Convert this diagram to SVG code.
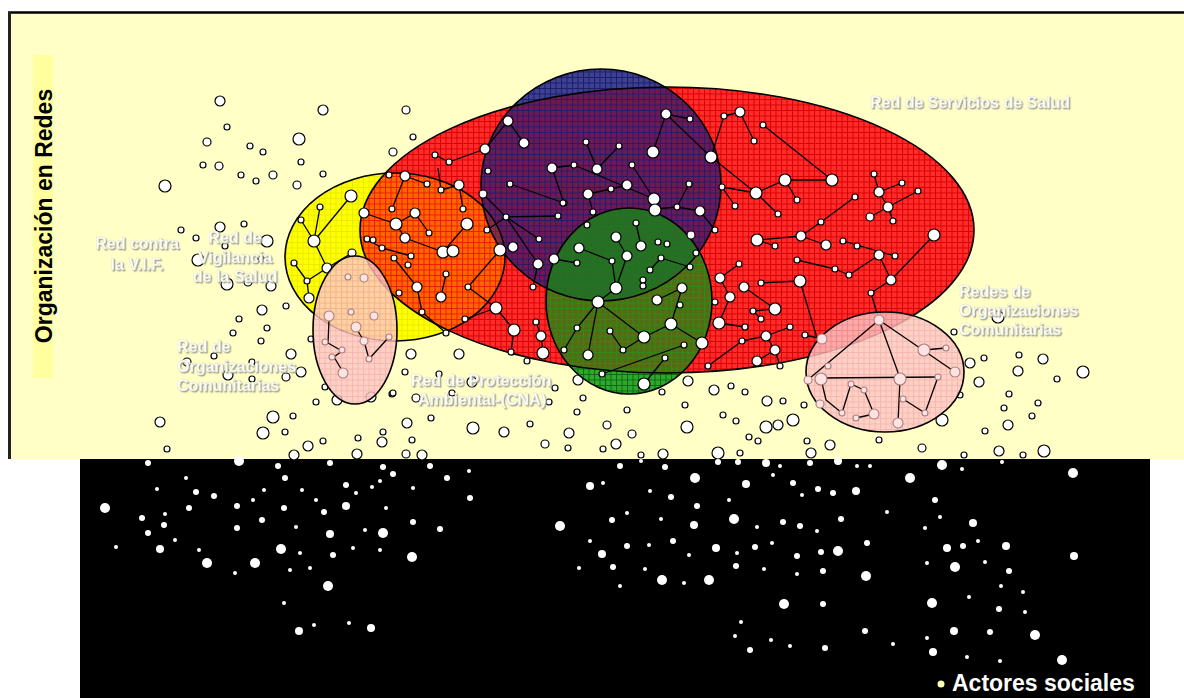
<svg xmlns="http://www.w3.org/2000/svg" width="1184" height="698" viewBox="0 0 1184 698">
<style>
.n{fill:#fff;stroke:#000;stroke-width:1.2}
.w{fill:#fff}
.pk{fill:#FFE2E2;stroke:#A88080;stroke-width:1.1}
.ol{fill:none;stroke:#000;stroke-width:1.6}
#connectors line,#pinkNet line{stroke:#000;stroke-width:1.3}
.lbl{font-family:"Liberation Sans",Arial,sans-serif;font-weight:bold;font-size:16px;fill:#FFFFF8;stroke:#DCDCCC;stroke-width:0.4;filter:url(#sh)}
</style>
<defs>
<filter id="sh" x="-5%" y="-20%" width="110%" height="140%"><feDropShadow dx="1.3" dy="1.3" stdDeviation="0.5" flood-color="#A4A494"/></filter>
<pattern id="pR" width="5.5" height="5.5" patternUnits="userSpaceOnUse"><rect width="5.5" height="5.5" fill="#FF2C2C"/><path d="M0 .5H5.5M.5 0V5.5" stroke="#D80000" stroke-width="1"/></pattern>
<pattern id="pO" width="5.5" height="5.5" patternUnits="userSpaceOnUse"><rect width="5.5" height="5.5" fill="#FF6600"/><path d="M0 .5H5.5M.5 0V5.5" stroke="#EC1C00" stroke-width="1"/></pattern>
<pattern id="pY" width="5.5" height="5.5" patternUnits="userSpaceOnUse"><rect width="5.5" height="5.5" fill="#FFFF00"/><path d="M0 .5H5.5M.5 0V5.5" stroke="#EAEA00" stroke-width="1"/></pattern>
<pattern id="pN" width="5.5" height="5.5" patternUnits="userSpaceOnUse"><rect width="5.5" height="5.5" fill="#3D4190"/><path d="M0 .5H5.5M.5 0V5.5" stroke="#1B1D6C" stroke-width="1"/></pattern>
<pattern id="pP" width="5.5" height="5.5" patternUnits="userSpaceOnUse"><rect width="5.5" height="5.5" fill="#6E1A52"/><path d="M0 .5H5.5M.5 0V5.5" stroke="#28196C" stroke-width="1"/></pattern>
<pattern id="pG" width="5.5" height="5.5" patternUnits="userSpaceOnUse"><rect width="5.5" height="5.5" fill="#2FA82F"/><path d="M0 .5H5.5M.5 0V5.5" stroke="#0C6A0C" stroke-width="1"/></pattern>
<pattern id="pGo" width="5.5" height="5.5" patternUnits="userSpaceOnUse"><rect width="5.5" height="5.5" fill="#566A14"/><path d="M0 .5H5.5M.5 0V5.5" stroke="#2E8A18" stroke-width="1"/></pattern>
<pattern id="pGd" width="5.5" height="5.5" patternUnits="userSpaceOnUse"><rect width="5.5" height="5.5" fill="#2B6A28"/><path d="M0 .5H5.5M.5 0V5.5" stroke="#1A7A1A" stroke-width="1"/></pattern>
<pattern id="pK" width="5.5" height="5.5" patternUnits="userSpaceOnUse"><rect width="5.5" height="5.5" fill="#FFC6C6"/><path d="M0 .5H5.5M.5 0V5.5" stroke="#F2A8A8" stroke-width="1"/></pattern>
<clipPath id="cRed"><ellipse cx="667" cy="230" rx="307" ry="143"/></clipPath>
<clipPath id="cYel"><ellipse cx="395" cy="257" rx="110" ry="84"/></clipPath>
<clipPath id="cNav"><ellipse cx="601" cy="185" rx="120" ry="116"/></clipPath>
</defs>

<g id="background">
<rect width="1184" height="698" fill="#fff"/>
<rect x="10" y="13" width="1174" height="446" fill="#FFFFC6"/>
<path d="M8 12.5H1184" stroke="#000" stroke-width="2.5"/>
<path d="M9.5 12V459" stroke="#222" stroke-width="3"/>
<rect x="80" y="459" width="1070" height="239" fill="#000"/>
</g>

<g id="title">
<rect x="33" y="55" width="20" height="323" fill="#FFFF9E"/>
<text transform="translate(52,216) rotate(-90)" text-anchor="middle" font-family="Liberation Sans,Arial,sans-serif" font-weight="bold" font-size="23" fill="#000">Organización en Redes</text>
</g>

<g id="scatter">
<circle class="n" cx="220" cy="101" r="5"/><circle class="n" cx="227" cy="127" r="3"/><circle class="n" cx="207" cy="142" r="4"/><circle class="n" cx="250" cy="146" r="3"/><circle class="n" cx="263" cy="152" r="3"/><circle class="n" cx="203" cy="165" r="3"/><circle class="n" cx="219" cy="166" r="4"/><circle class="n" cx="241" cy="175" r="3"/><circle class="n" cx="256" cy="181" r="3"/><circle class="n" cx="273" cy="175" r="4"/><circle class="n" cx="165" cy="186" r="6"/><circle class="n" cx="299" cy="139" r="6"/><circle class="n" cx="297" cy="185" r="4"/><circle class="n" cx="301" cy="162" r="3"/><circle class="n" cx="323" cy="174" r="3"/><circle class="n" cx="323" cy="110" r="5"/><circle class="n" cx="406" cy="110" r="4"/><circle class="n" cx="413" cy="137" r="3"/><circle class="n" cx="393" cy="152" r="4"/>
<circle class="n" cx="181" cy="230" r="3"/><circle class="n" cx="196" cy="238" r="3"/><circle class="n" cx="220" cy="227" r="5"/><circle class="n" cx="244" cy="224" r="3"/><circle class="n" cx="267" cy="241" r="6"/><circle class="n" cx="225" cy="246" r="3"/><circle class="n" cx="198" cy="260" r="6"/><circle class="n" cx="261" cy="259" r="3"/><circle class="n" cx="227" cy="284" r="6"/><circle class="n" cx="248" cy="282" r="4"/><circle class="n" cx="271" cy="286" r="5"/><circle class="n" cx="262" cy="310" r="5"/><circle class="n" cx="286" cy="306" r="3"/><circle class="n" cx="239" cy="319" r="3"/><circle class="n" cx="267" cy="328" r="3"/><circle class="n" cx="233" cy="333" r="3"/><circle class="n" cx="261" cy="341" r="3"/><circle class="n" cx="214" cy="356" r="3"/><circle class="n" cx="291" cy="354" r="5"/><circle class="n" cx="187" cy="362" r="4"/><circle class="n" cx="252" cy="362" r="3"/><circle class="n" cx="228" cy="375" r="5"/><circle class="n" cx="252" cy="379" r="3"/><circle class="n" cx="286" cy="377" r="4"/><circle class="n" cx="301" cy="372" r="5"/><circle class="n" cx="311" cy="339" r="3"/><circle class="n" cx="325" cy="387" r="3"/><circle class="n" cx="316" cy="402" r="3"/><circle class="n" cx="337" cy="400" r="5"/><circle class="n" cx="371" cy="397" r="5"/><circle class="n" cx="392" cy="394" r="3"/>
<circle class="n" cx="160" cy="422" r="5"/><circle class="n" cx="167" cy="449" r="3"/><circle class="n" cx="273" cy="417" r="6"/><circle class="n" cx="293" cy="416" r="3"/><circle class="n" cx="263" cy="433" r="6"/><circle class="n" cx="285" cy="432" r="3"/><circle class="n" cx="294" cy="455" r="5"/><circle class="n" cx="308" cy="446" r="5"/><circle class="n" cx="323" cy="441" r="3"/><circle class="n" cx="358" cy="438" r="3"/><circle class="n" cx="357" cy="454" r="5"/><circle class="n" cx="382" cy="442" r="5"/><circle class="n" cx="383" cy="432" r="3"/><circle class="n" cx="412" cy="440" r="3"/><circle class="n" cx="406" cy="454" r="4"/><circle class="n" cx="422" cy="455" r="5"/><circle class="n" cx="393" cy="393" r="3"/><circle class="n" cx="416" cy="398" r="4"/><circle class="n" cx="405" cy="372" r="3"/><circle class="n" cx="439" cy="374" r="3"/><circle class="n" cx="472" cy="382" r="5"/><circle class="n" cx="452" cy="393" r="3"/><circle class="n" cx="407" cy="423" r="5"/><circle class="n" cx="431" cy="418" r="3"/><circle class="n" cx="473" cy="428" r="6"/><circle class="n" cx="504" cy="432" r="5"/><circle class="n" cx="530" cy="424" r="3"/><circle class="n" cx="545" cy="444" r="4"/><circle class="n" cx="568" cy="448" r="3"/><circle class="n" cx="569" cy="433" r="5"/><circle class="n" cx="411" cy="354" r="5"/><circle class="n" cx="459" cy="354" r="5"/><circle class="n" cx="512" cy="352" r="3"/><circle class="n" cx="527" cy="361" r="3"/><circle class="n" cx="555" cy="388" r="3"/><circle class="n" cx="549" cy="402" r="3"/>
<circle class="n" cx="578" cy="380" r="5"/><circle class="n" cx="583" cy="398" r="3"/><circle class="n" cx="577" cy="412" r="3"/><circle class="n" cx="627" cy="410" r="3"/><circle class="n" cx="607" cy="425" r="4"/><circle class="n" cx="632" cy="434" r="4"/><circle class="n" cx="616" cy="444" r="5"/><circle class="n" cx="603" cy="449" r="3"/><circle class="n" cx="641" cy="455" r="3"/><circle class="n" cx="663" cy="454" r="5"/><circle class="n" cx="662" cy="392" r="3"/><circle class="n" cx="688" cy="381" r="5"/><circle class="n" cx="685" cy="405" r="3"/><circle class="n" cx="687" cy="427" r="6"/><circle class="n" cx="714" cy="390" r="5"/><circle class="n" cx="731" cy="386" r="3"/><circle class="n" cx="745" cy="392" r="3"/><circle class="n" cx="767" cy="401" r="5"/><circle class="n" cx="783" cy="401" r="3"/><circle class="n" cx="804" cy="405" r="3"/><circle class="n" cx="723" cy="415" r="3"/><circle class="n" cx="736" cy="421" r="3"/><circle class="n" cx="749" cy="437" r="3"/><circle class="n" cx="758" cy="441" r="3"/><circle class="n" cx="718" cy="453" r="6"/><circle class="n" cx="740" cy="453" r="3"/><circle class="n" cx="766" cy="427" r="6"/><circle class="n" cx="778" cy="425" r="5"/><circle class="n" cx="793" cy="420" r="6"/><circle class="n" cx="807" cy="441" r="3"/><circle class="n" cx="830" cy="445" r="5"/><circle class="n" cx="811" cy="453" r="5"/>
<circle class="n" cx="942" cy="420" r="6"/><circle class="n" cx="879" cy="440" r="3"/><circle class="n" cx="922" cy="448" r="4"/><circle class="n" cx="964" cy="455" r="3"/><circle class="n" cx="960" cy="395" r="3"/><circle class="n" cx="979" cy="382" r="5"/><circle class="n" cx="970" cy="363" r="5"/><circle class="n" cx="984" cy="358" r="3"/><circle class="n" cx="954" cy="332" r="3"/><circle class="n" cx="998" cy="317" r="6"/><circle class="n" cx="1009" cy="394" r="3"/><circle class="n" cx="1004" cy="408" r="3"/><circle class="n" cx="985" cy="431" r="3"/><circle class="n" cx="1008" cy="425" r="5"/><circle class="n" cx="1038" cy="403" r="3"/><circle class="n" cx="1032" cy="416" r="3"/><circle class="n" cx="999" cy="451" r="5"/><circle class="n" cx="1023" cy="455" r="3"/><circle class="n" cx="1044" cy="451" r="6"/><circle class="n" cx="1018" cy="371" r="5"/><circle class="n" cx="1019" cy="355" r="3"/><circle class="n" cx="1043" cy="359" r="5"/><circle class="n" cx="1057" cy="379" r="3"/><circle class="n" cx="1083" cy="372" r="6"/>
</g>

<g id="networks">
<ellipse cx="667" cy="230" rx="307" ry="143" fill="url(#pR)"/>
<ellipse cx="395" cy="257" rx="110" ry="84" fill="url(#pY)"/>
<ellipse cx="395" cy="257" rx="110" ry="84" fill="url(#pO)" clip-path="url(#cRed)"/>
<ellipse cx="601" cy="185" rx="120" ry="116" fill="url(#pN)"/>
<ellipse cx="601" cy="185" rx="120" ry="116" fill="url(#pP)" clip-path="url(#cRed)"/>
<ellipse cx="601" cy="185" rx="120" ry="116" fill="#FF6600" fill-opacity="0.22" clip-path="url(#cYel)"/>
<ellipse cx="629" cy="301" rx="83" ry="93" fill="url(#pG)"/>
<ellipse cx="629" cy="301" rx="83" ry="93" fill="url(#pGo)" clip-path="url(#cRed)"/>
<ellipse cx="629" cy="301" rx="83" ry="93" fill="url(#pGd)" clip-path="url(#cNav)"/>
<ellipse class="ol" cx="667" cy="230" rx="307" ry="143"/>
<ellipse class="ol" cx="395" cy="257" rx="110" ry="84"/>
<ellipse class="ol" cx="601" cy="185" rx="120" ry="116"/>
<ellipse class="ol" cx="629" cy="301" rx="83" ry="93"/>
</g>

<g id="connectors">
<line x1="351" y1="196" x2="314" y2="241"/><line x1="320" y1="207" x2="314" y2="241"/><line x1="301" y1="220" x2="314" y2="241"/><line x1="314" y1="241" x2="327" y2="268"/><line x1="294" y1="263" x2="307" y2="281"/><line x1="307" y1="281" x2="327" y2="268"/><line x1="327" y1="268" x2="352" y2="253"/><line x1="307" y1="281" x2="309" y2="298"/>
<line x1="405" y1="176" x2="427" y2="184"/><line x1="405" y1="176" x2="392" y2="209"/><line x1="441" y1="190" x2="438" y2="168"/><line x1="441" y1="190" x2="459" y2="185"/><line x1="459" y1="185" x2="463" y2="209"/><line x1="364" y1="213" x2="396" y2="224"/><line x1="396" y1="224" x2="415" y2="213"/><line x1="415" y1="213" x2="429" y2="233"/><line x1="396" y1="224" x2="405" y2="238"/><line x1="405" y1="238" x2="443" y2="252"/><line x1="443" y1="252" x2="467" y2="224"/><line x1="367" y1="239" x2="382" y2="248"/><line x1="382" y1="248" x2="411" y2="256"/><line x1="394" y1="258" x2="417" y2="287"/><line x1="417" y1="287" x2="422" y2="312"/><line x1="422" y1="312" x2="446" y2="333"/><line x1="446" y1="274" x2="441" y2="297"/><line x1="500" y1="250" x2="468" y2="287"/><line x1="468" y1="287" x2="496" y2="308"/><line x1="496" y1="308" x2="465" y2="319"/><line x1="496" y1="308" x2="514" y2="330"/><line x1="514" y1="330" x2="511" y2="352"/><line x1="536" y1="322" x2="541" y2="336"/><line x1="541" y1="336" x2="543" y2="353"/><line x1="533" y1="287" x2="538" y2="264"/>
<line x1="435" y1="155" x2="449" y2="162"/><line x1="449" y1="162" x2="485" y2="149"/>
<line x1="508" y1="121" x2="524" y2="143"/><line x1="485" y1="149" x2="508" y2="121"/><line x1="552" y1="168" x2="574" y2="165"/><line x1="574" y1="165" x2="654" y2="199"/><line x1="586" y1="142" x2="597" y2="169"/><line x1="619" y1="146" x2="597" y2="169"/><line x1="632" y1="165" x2="654" y2="199"/><line x1="588" y1="194" x2="611" y2="189"/><line x1="611" y1="189" x2="627" y2="185"/><line x1="588" y1="194" x2="593" y2="212"/><line x1="552" y1="168" x2="564" y2="203"/><line x1="510" y1="184" x2="564" y2="203"/><line x1="655" y1="209" x2="677" y2="207"/><line x1="677" y1="207" x2="700" y2="211"/><line x1="677" y1="207" x2="689" y2="184"/><line x1="666" y1="114" x2="690" y2="119"/><line x1="666" y1="114" x2="653" y2="152"/><line x1="666" y1="114" x2="711" y2="157"/><line x1="483" y1="194" x2="506" y2="217"/><line x1="506" y1="217" x2="558" y2="216"/><line x1="487" y1="230" x2="506" y2="217"/><line x1="506" y1="217" x2="539" y2="239"/><line x1="506" y1="217" x2="538" y2="264"/>
<line x1="724" y1="116" x2="740" y2="112"/><line x1="740" y1="112" x2="754" y2="141"/><line x1="763" y1="125" x2="832" y2="180"/><line x1="724" y1="116" x2="711" y2="157"/><line x1="711" y1="157" x2="756" y2="193"/><line x1="722" y1="187" x2="756" y2="193"/><line x1="722" y1="187" x2="735" y2="206"/><line x1="756" y1="193" x2="785" y2="180"/><line x1="785" y1="180" x2="832" y2="180"/><line x1="785" y1="180" x2="797" y2="200"/><line x1="756" y1="193" x2="778" y2="214"/><line x1="700" y1="211" x2="715" y2="230"/>
<line x1="874" y1="174" x2="879" y2="192"/><line x1="879" y1="192" x2="902" y2="183"/><line x1="879" y1="192" x2="888" y2="207"/><line x1="888" y1="207" x2="918" y2="191"/><line x1="888" y1="207" x2="870" y2="217"/><line x1="888" y1="207" x2="893" y2="221"/><line x1="855" y1="197" x2="821" y2="222"/><line x1="821" y1="222" x2="801" y2="236"/><line x1="801" y1="236" x2="757" y2="240"/><line x1="757" y1="240" x2="775" y2="246"/><line x1="801" y1="236" x2="826" y2="245"/><line x1="934" y1="235" x2="891" y2="280"/><line x1="891" y1="280" x2="871" y2="293"/><line x1="871" y1="293" x2="879" y2="320"/><line x1="843" y1="241" x2="895" y2="256"/><line x1="797" y1="260" x2="835" y2="269"/><line x1="835" y1="269" x2="849" y2="275"/><line x1="849" y1="275" x2="879" y2="255"/><line x1="879" y1="255" x2="891" y2="280"/>
<line x1="739" y1="264" x2="720" y2="278"/><line x1="720" y1="278" x2="730" y2="297"/><line x1="730" y1="297" x2="719" y2="323"/><line x1="719" y1="323" x2="745" y2="327"/><line x1="744" y1="287" x2="775" y2="309"/><line x1="761" y1="283" x2="800" y2="281"/><line x1="800" y1="281" x2="817" y2="338"/><line x1="753" y1="311" x2="775" y2="309"/><line x1="753" y1="311" x2="761" y2="319"/><line x1="790" y1="327" x2="766" y2="336"/><line x1="766" y1="336" x2="742" y2="341"/><line x1="766" y1="336" x2="775" y2="350"/><line x1="775" y1="350" x2="757" y2="361"/><line x1="775" y1="350" x2="780" y2="366"/><line x1="742" y1="341" x2="708" y2="366"/><line x1="805" y1="335" x2="822" y2="339"/>
<line x1="579" y1="248" x2="612" y2="261"/><line x1="554" y1="259" x2="577" y2="263"/><line x1="612" y1="261" x2="616" y2="288"/><line x1="616" y1="237" x2="627" y2="256"/><line x1="627" y1="256" x2="616" y2="288"/><line x1="641" y1="246" x2="636" y2="223"/><line x1="661" y1="258" x2="690" y2="267"/><line x1="661" y1="258" x2="650" y2="270"/><line x1="616" y1="288" x2="598" y2="302"/><line x1="598" y1="302" x2="577" y2="328"/><line x1="577" y1="328" x2="564" y2="350"/><line x1="598" y1="302" x2="588" y2="355"/><line x1="598" y1="302" x2="644" y2="337"/><line x1="644" y1="337" x2="671" y2="324"/><line x1="671" y1="324" x2="682" y2="288"/><line x1="682" y1="288" x2="657" y2="300"/><line x1="671" y1="324" x2="702" y2="343"/><line x1="610" y1="331" x2="623" y2="350"/><line x1="623" y1="350" x2="644" y2="337"/><line x1="684" y1="345" x2="602" y2="374"/><line x1="665" y1="358" x2="644" y2="384"/>
</g>

<g id="nodes">
<circle class="n" cx="351" cy="196" r="6"/><circle class="n" cx="320" cy="207" r="3"/><circle class="n" cx="301" cy="220" r="3"/><circle class="n" cx="314" cy="241" r="6"/><circle class="n" cx="294" cy="263" r="3"/><circle class="n" cx="327" cy="268" r="5"/><circle class="n" cx="352" cy="253" r="4"/><circle class="n" cx="307" cy="281" r="3"/><circle class="n" cx="309" cy="298" r="5"/><circle class="n" cx="364" cy="213" r="5"/>
<circle class="n" cx="405" cy="176" r="5"/><circle class="n" cx="389" cy="175" r="3"/><circle class="n" cx="427" cy="184" r="3"/><circle class="n" cx="441" cy="190" r="3"/><circle class="n" cx="459" cy="185" r="5"/><circle class="n" cx="463" cy="209" r="3"/><circle class="n" cx="392" cy="209" r="3"/><circle class="n" cx="415" cy="213" r="5"/><circle class="n" cx="396" cy="224" r="6"/><circle class="n" cx="429" cy="233" r="3"/><circle class="n" cx="467" cy="224" r="6"/><circle class="n" cx="405" cy="238" r="5"/><circle class="n" cx="367" cy="239" r="3"/><circle class="n" cx="373" cy="240" r="3"/><circle class="n" cx="382" cy="248" r="3"/><circle class="n" cx="443" cy="252" r="6"/><circle class="n" cx="453" cy="251" r="6"/><circle class="n" cx="411" cy="256" r="3"/><circle class="n" cx="394" cy="258" r="3"/><circle class="n" cx="408" cy="265" r="3"/><circle class="n" cx="446" cy="274" r="3"/><circle class="n" cx="417" cy="287" r="5"/><circle class="n" cx="399" cy="293" r="3"/><circle class="n" cx="441" cy="297" r="5"/><circle class="n" cx="422" cy="312" r="3"/><circle class="n" cx="446" cy="333" r="3"/><circle class="n" cx="500" cy="250" r="6"/><circle class="n" cx="513" cy="247" r="5"/><circle class="n" cx="468" cy="287" r="3"/><circle class="n" cx="496" cy="308" r="6"/><circle class="n" cx="465" cy="319" r="3"/><circle class="n" cx="514" cy="330" r="6"/><circle class="n" cx="536" cy="322" r="3"/><circle class="n" cx="541" cy="336" r="5"/><circle class="n" cx="543" cy="353" r="6"/><circle class="n" cx="511" cy="352" r="3"/><circle class="n" cx="533" cy="287" r="3"/>
<circle class="n" cx="435" cy="155" r="3"/><circle class="n" cx="449" cy="162" r="3"/>
<circle class="n" cx="508" cy="121" r="5"/><circle class="n" cx="524" cy="143" r="5"/><circle class="n" cx="485" cy="149" r="5"/><circle class="n" cx="488" cy="171" r="3"/><circle class="n" cx="552" cy="168" r="5"/><circle class="n" cx="574" cy="165" r="3"/><circle class="n" cx="597" cy="169" r="5"/><circle class="n" cx="586" cy="142" r="3"/><circle class="n" cx="619" cy="146" r="3"/><circle class="n" cx="632" cy="165" r="3"/><circle class="n" cx="627" cy="185" r="5"/><circle class="n" cx="611" cy="189" r="3"/><circle class="n" cx="588" cy="194" r="5"/><circle class="n" cx="593" cy="212" r="3"/><circle class="n" cx="510" cy="184" r="3"/><circle class="n" cx="564" cy="203" r="3"/><circle class="n" cx="654" cy="199" r="6"/><circle class="n" cx="655" cy="210" r="6"/><circle class="n" cx="677" cy="207" r="3"/><circle class="n" cx="700" cy="211" r="5"/><circle class="n" cx="689" cy="184" r="3"/><circle class="n" cx="666" cy="114" r="5"/><circle class="n" cx="690" cy="119" r="3"/><circle class="n" cx="653" cy="152" r="6"/><circle class="n" cx="711" cy="157" r="6"/><circle class="n" cx="483" cy="194" r="4"/><circle class="n" cx="506" cy="217" r="3"/><circle class="n" cx="558" cy="216" r="3"/><circle class="n" cx="487" cy="230" r="3"/><circle class="n" cx="539" cy="239" r="3"/><circle class="n" cx="538" cy="264" r="5"/>
<circle class="n" cx="724" cy="116" r="3"/><circle class="n" cx="740" cy="112" r="5"/><circle class="n" cx="754" cy="141" r="3"/><circle class="n" cx="763" cy="125" r="3"/><circle class="n" cx="832" cy="180" r="6"/><circle class="n" cx="722" cy="187" r="3"/><circle class="n" cx="756" cy="193" r="6"/><circle class="n" cx="785" cy="180" r="6"/><circle class="n" cx="797" cy="200" r="3"/><circle class="n" cx="778" cy="214" r="3"/><circle class="n" cx="735" cy="206" r="3"/><circle class="n" cx="715" cy="230" r="3"/><circle class="n" cx="874" cy="174" r="3"/><circle class="n" cx="879" cy="192" r="5"/><circle class="n" cx="902" cy="183" r="3"/><circle class="n" cx="918" cy="191" r="3"/><circle class="n" cx="888" cy="207" r="5"/><circle class="n" cx="870" cy="217" r="4"/><circle class="n" cx="893" cy="221" r="3"/><circle class="n" cx="855" cy="197" r="3"/><circle class="n" cx="821" cy="222" r="3"/><circle class="n" cx="801" cy="236" r="5"/><circle class="n" cx="757" cy="240" r="6"/><circle class="n" cx="775" cy="246" r="3"/><circle class="n" cx="826" cy="245" r="5"/><circle class="n" cx="934" cy="235" r="6"/><circle class="n" cx="891" cy="280" r="5"/><circle class="n" cx="871" cy="293" r="3"/><circle class="n" cx="843" cy="241" r="3"/><circle class="n" cx="857" cy="246" r="3"/><circle class="n" cx="879" cy="255" r="5"/><circle class="n" cx="895" cy="256" r="3"/><circle class="n" cx="849" cy="275" r="3"/><circle class="n" cx="835" cy="269" r="3"/><circle class="n" cx="797" cy="260" r="3"/>
<circle class="n" cx="739" cy="264" r="3"/><circle class="n" cx="720" cy="278" r="5"/><circle class="n" cx="730" cy="297" r="5"/><circle class="n" cx="744" cy="287" r="5"/><circle class="n" cx="715" cy="302" r="3"/><circle class="n" cx="719" cy="323" r="6"/><circle class="n" cx="745" cy="327" r="3"/><circle class="n" cx="761" cy="283" r="3"/><circle class="n" cx="800" cy="281" r="6"/><circle class="n" cx="753" cy="311" r="3"/><circle class="n" cx="761" cy="319" r="3"/><circle class="n" cx="775" cy="309" r="6"/><circle class="n" cx="790" cy="327" r="3"/><circle class="n" cx="766" cy="336" r="5"/><circle class="n" cx="742" cy="341" r="3"/><circle class="n" cx="775" cy="350" r="5"/><circle class="n" cx="757" cy="361" r="5"/><circle class="n" cx="780" cy="366" r="3"/><circle class="n" cx="805" cy="335" r="3"/><circle class="n" cx="708" cy="366" r="3"/>
<circle class="n" cx="563" cy="203" r="3"/><circle class="n" cx="587" cy="225" r="3"/><circle class="n" cx="636" cy="223" r="3"/><circle class="n" cx="616" cy="237" r="5"/><circle class="n" cx="641" cy="246" r="5"/><circle class="n" cx="658" cy="242" r="3"/><circle class="n" cx="667" cy="244" r="3"/><circle class="n" cx="691" cy="235" r="4"/><circle class="n" cx="579" cy="248" r="5"/><circle class="n" cx="577" cy="263" r="3"/><circle class="n" cx="554" cy="259" r="5"/><circle class="n" cx="612" cy="261" r="3"/><circle class="n" cx="627" cy="256" r="5"/><circle class="n" cx="661" cy="258" r="3"/><circle class="n" cx="690" cy="267" r="3"/><circle class="n" cx="696" cy="253" r="3"/><circle class="n" cx="650" cy="270" r="3"/><circle class="n" cx="643" cy="280" r="3"/><circle class="n" cx="643" cy="286" r="3"/><circle class="n" cx="616" cy="288" r="6"/><circle class="n" cx="598" cy="302" r="6"/><circle class="n" cx="657" cy="300" r="5"/><circle class="n" cx="682" cy="288" r="5"/><circle class="n" cx="680" cy="305" r="3"/><circle class="n" cx="671" cy="324" r="6"/><circle class="n" cx="577" cy="328" r="3"/><circle class="n" cx="610" cy="331" r="3"/><circle class="n" cx="644" cy="337" r="6"/><circle class="n" cx="623" cy="350" r="3"/><circle class="n" cx="564" cy="350" r="3"/><circle class="n" cx="588" cy="355" r="5"/><circle class="n" cx="702" cy="343" r="6"/><circle class="n" cx="684" cy="345" r="3"/><circle class="n" cx="665" cy="358" r="3"/><circle class="n" cx="602" cy="374" r="3"/><circle class="n" cx="644" cy="384" r="6"/>
</g>

<g id="pinkAreas">
<ellipse cx="355" cy="330" rx="42" ry="74" fill="url(#pK)" fill-opacity="0.82" stroke="#000" stroke-width="1.6"/>
<ellipse cx="885" cy="372" rx="79" ry="60" fill="url(#pK)" fill-opacity="0.82" stroke="#000" stroke-width="1.6"/>
</g>

<g id="pinkNet">
<line x1="329" y1="320" x2="328" y2="343"/><line x1="328" y1="343" x2="342" y2="351"/><line x1="342" y1="351" x2="334" y2="357"/><line x1="334" y1="357" x2="343" y2="372"/><line x1="356" y1="328" x2="364" y2="341"/><line x1="364" y1="341" x2="369" y2="359"/><line x1="369" y1="359" x2="389" y2="337"/>
<line x1="879" y1="320" x2="810" y2="378"/><line x1="879" y1="320" x2="900" y2="378"/><line x1="879" y1="320" x2="955" y2="372"/><line x1="924" y1="350" x2="946" y2="348"/><line x1="821" y1="378" x2="938" y2="377"/><line x1="821" y1="379" x2="826" y2="400"/><line x1="826" y1="400" x2="842" y2="413"/><line x1="842" y1="413" x2="851" y2="384"/><line x1="851" y1="384" x2="864" y2="390"/><line x1="864" y1="390" x2="874" y2="414"/><line x1="874" y1="414" x2="856" y2="418"/><line x1="900" y1="379" x2="898" y2="423"/><line x1="903" y1="399" x2="925" y2="413"/><line x1="925" y1="413" x2="938" y2="377"/>
<circle class="pk" cx="348" cy="277" r="3"/><circle class="pk" cx="364" cy="278" r="4"/><circle class="pk" cx="329" cy="316" r="5"/><circle class="pk" cx="351" cy="312" r="3"/><circle class="pk" cx="374" cy="316" r="4"/><circle class="pk" cx="356" cy="327" r="5"/><circle class="pk" cx="364" cy="341" r="4"/><circle class="pk" cx="325" cy="342" r="3"/><circle class="pk" cx="342" cy="350" r="3"/><circle class="pk" cx="369" cy="359" r="3"/><circle class="pk" cx="332" cy="357" r="3"/><circle class="pk" cx="343" cy="373" r="5"/><circle class="pk" cx="389" cy="337" r="3"/>
<circle class="pk" cx="879" cy="320" r="5"/><circle class="pk" cx="822" cy="339" r="5"/><circle class="pk" cx="924" cy="350" r="6"/><circle class="pk" cx="946" cy="348" r="3"/><circle class="pk" cx="955" cy="372" r="5"/><circle class="pk" cx="828" cy="366" r="3"/><circle class="pk" cx="821" cy="379" r="6"/><circle class="pk" cx="808" cy="380" r="4"/><circle class="pk" cx="900" cy="379" r="6"/><circle class="pk" cx="938" cy="377" r="3"/><circle class="pk" cx="851" cy="384" r="3"/><circle class="pk" cx="864" cy="390" r="3"/><circle class="pk" cx="820" cy="404" r="4"/><circle class="pk" cx="842" cy="413" r="3"/><circle class="pk" cx="903" cy="399" r="3"/><circle class="pk" cx="925" cy="413" r="3"/><circle class="pk" cx="856" cy="418" r="3"/><circle class="pk" cx="874" cy="414" r="5"/><circle class="pk" cx="898" cy="423" r="5"/>
</g>

<g id="actors">
<circle class="w" cx="148" cy="463" r="3"/><circle class="w" cx="239" cy="461" r="5"/><circle class="w" cx="278" cy="466" r="3"/><circle class="w" cx="330" cy="463" r="3"/><circle class="w" cx="383" cy="467" r="3"/><circle class="w" cx="430" cy="466" r="3"/><circle class="w" cx="157" cy="489" r="2"/><circle class="w" cx="186" cy="478" r="2"/><circle class="w" cx="196" cy="492" r="3"/><circle class="w" cx="214" cy="496" r="3"/><circle class="w" cx="264" cy="490" r="2"/><circle class="w" cx="285" cy="478" r="3"/><circle class="w" cx="302" cy="490" r="2"/><circle class="w" cx="346" cy="485" r="3"/><circle class="w" cx="372" cy="487" r="2"/><circle class="w" cx="380" cy="481" r="2"/><circle class="w" cx="393" cy="474" r="3"/><circle class="w" cx="413" cy="488" r="2"/><circle class="w" cx="447" cy="478" r="3"/><circle class="w" cx="469" cy="471" r="2"/><circle class="w" cx="470" cy="498" r="3"/><circle class="w" cx="105" cy="508" r="5"/><circle class="w" cx="142" cy="518" r="3"/><circle class="w" cx="165" cy="514" r="2"/><circle class="w" cx="189" cy="508" r="3"/><circle class="w" cx="237" cy="506" r="3"/><circle class="w" cx="253" cy="500" r="2"/><circle class="w" cx="284" cy="508" r="3"/><circle class="w" cx="316" cy="500" r="2"/><circle class="w" cx="324" cy="512" r="3"/><circle class="w" cx="346" cy="506" r="4"/><circle class="w" cx="356" cy="493" r="2"/><circle class="w" cx="386" cy="508" r="2"/><circle class="w" cx="164" cy="525" r="3"/><circle class="w" cx="148" cy="533" r="3"/><circle class="w" cx="116" cy="547" r="2"/><circle class="w" cx="160" cy="549" r="4"/><circle class="w" cx="175" cy="540" r="2"/><circle class="w" cx="207" cy="563" r="5"/><circle class="w" cx="199" cy="550" r="2"/><circle class="w" cx="237" cy="528" r="3"/><circle class="w" cx="262" cy="520" r="3"/><circle class="w" cx="296" cy="527" r="2"/><circle class="w" cx="330" cy="534" r="4"/><circle class="w" cx="365" cy="530" r="2"/><circle class="w" cx="383" cy="533" r="5"/><circle class="w" cx="413" cy="522" r="3"/><circle class="w" cx="440" cy="529" r="3"/><circle class="w" cx="281" cy="549" r="5"/><circle class="w" cx="300" cy="553" r="2"/><circle class="w" cx="333" cy="555" r="3"/><circle class="w" cx="353" cy="548" r="2"/><circle class="w" cx="380" cy="550" r="2"/><circle class="w" cx="412" cy="557" r="5"/><circle class="w" cx="255" cy="563" r="5"/><circle class="w" cx="235" cy="573" r="2"/><circle class="w" cx="290" cy="570" r="2"/><circle class="w" cx="328" cy="586" r="5"/><circle class="w" cx="310" cy="568" r="2"/><circle class="w" cx="284" cy="603" r="2"/><circle class="w" cx="299" cy="631" r="4"/><circle class="w" cx="314" cy="625" r="2"/><circle class="w" cx="349" cy="623" r="2"/><circle class="w" cx="371" cy="628" r="4"/>
<circle class="w" cx="590" cy="486" r="4"/><circle class="w" cx="560" cy="526" r="5"/><circle class="w" cx="603" cy="483" r="2"/><circle class="w" cx="620" cy="466" r="3"/><circle class="w" cx="641" cy="461" r="2"/><circle class="w" cx="665" cy="467" r="3"/><circle class="w" cx="695" cy="478" r="5"/><circle class="w" cx="718" cy="462" r="3"/><circle class="w" cx="738" cy="462" r="3"/><circle class="w" cx="766" cy="463" r="4"/><circle class="w" cx="780" cy="466" r="2"/><circle class="w" cx="810" cy="463" r="3"/><circle class="w" cx="838" cy="461" r="4"/><circle class="w" cx="857" cy="466" r="2"/><circle class="w" cx="870" cy="466" r="2"/><circle class="w" cx="910" cy="478" r="5"/><circle class="w" cx="942" cy="465" r="5"/><circle class="w" cx="962" cy="469" r="2"/><circle class="w" cx="1073" cy="473" r="5"/><circle class="w" cx="1002" cy="462" r="2"/><circle class="w" cx="650" cy="491" r="2"/><circle class="w" cx="671" cy="497" r="3"/><circle class="w" cx="697" cy="506" r="3"/><circle class="w" cx="729" cy="500" r="2"/><circle class="w" cx="746" cy="484" r="4"/><circle class="w" cx="773" cy="475" r="2"/><circle class="w" cx="793" cy="483" r="3"/><circle class="w" cx="802" cy="495" r="2"/><circle class="w" cx="818" cy="489" r="3"/><circle class="w" cx="833" cy="493" r="3"/><circle class="w" cx="856" cy="491" r="4"/><circle class="w" cx="627" cy="513" r="2"/><circle class="w" cx="612" cy="520" r="3"/><circle class="w" cx="661" cy="519" r="2"/><circle class="w" cx="694" cy="525" r="4"/><circle class="w" cx="734" cy="519" r="5"/><circle class="w" cx="757" cy="527" r="2"/><circle class="w" cx="783" cy="522" r="3"/><circle class="w" cx="800" cy="526" r="3"/><circle class="w" cx="817" cy="531" r="2"/><circle class="w" cx="841" cy="519" r="3"/><circle class="w" cx="887" cy="512" r="2"/><circle class="w" cx="935" cy="500" r="3"/><circle class="w" cx="940" cy="517" r="2"/><circle class="w" cx="925" cy="528" r="2"/><circle class="w" cx="973" cy="523" r="4"/><circle class="w" cx="590" cy="541" r="2"/><circle class="w" cx="602" cy="554" r="4"/><circle class="w" cx="627" cy="546" r="3"/><circle class="w" cx="649" cy="545" r="2"/><circle class="w" cx="673" cy="541" r="3"/><circle class="w" cx="689" cy="555" r="2"/><circle class="w" cx="716" cy="548" r="4"/><circle class="w" cx="737" cy="553" r="2"/><circle class="w" cx="755" cy="547" r="3"/><circle class="w" cx="772" cy="543" r="2"/><circle class="w" cx="797" cy="556" r="3"/><circle class="w" cx="821" cy="552" r="3"/><circle class="w" cx="838" cy="551" r="5"/><circle class="w" cx="867" cy="543" r="3"/><circle class="w" cx="947" cy="548" r="4"/><circle class="w" cx="963" cy="546" r="3"/><circle class="w" cx="978" cy="541" r="2"/><circle class="w" cx="1006" cy="546" r="4"/><circle class="w" cx="1074" cy="556" r="4"/><circle class="w" cx="579" cy="568" r="2"/><circle class="w" cx="613" cy="567" r="3"/><circle class="w" cx="645" cy="569" r="2"/><circle class="w" cx="662" cy="580" r="5"/><circle class="w" cx="709" cy="580" r="5"/><circle class="w" cx="736" cy="566" r="3"/><circle class="w" cx="764" cy="569" r="2"/><circle class="w" cx="797" cy="574" r="2"/><circle class="w" cx="823" cy="571" r="3"/><circle class="w" cx="866" cy="576" r="5"/><circle class="w" cx="927" cy="563" r="2"/><circle class="w" cx="955" cy="567" r="5"/><circle class="w" cx="985" cy="562" r="2"/><circle class="w" cx="1009" cy="571" r="3"/><circle class="w" cx="1001" cy="586" r="2"/><circle class="w" cx="1023" cy="592" r="2"/><circle class="w" cx="620" cy="586" r="2"/><circle class="w" cx="684" cy="583" r="2"/><circle class="w" cx="784" cy="604" r="5"/><circle class="w" cx="823" cy="604" r="3"/><circle class="w" cx="932" cy="603" r="5"/><circle class="w" cx="969" cy="597" r="2"/><circle class="w" cx="999" cy="609" r="3"/><circle class="w" cx="1025" cy="612" r="2"/><circle class="w" cx="741" cy="622" r="2"/><circle class="w" cx="735" cy="636" r="2"/><circle class="w" cx="750" cy="650" r="3"/><circle class="w" cx="771" cy="640" r="2"/><circle class="w" cx="790" cy="646" r="2"/><circle class="w" cx="825" cy="648" r="3"/><circle class="w" cx="865" cy="631" r="3"/><circle class="w" cx="893" cy="644" r="2"/><circle class="w" cx="927" cy="638" r="2"/><circle class="w" cx="954" cy="631" r="4"/><circle class="w" cx="990" cy="632" r="3"/><circle class="w" cx="1035" cy="635" r="5"/><circle class="w" cx="933" cy="652" r="4"/><circle class="w" cx="967" cy="657" r="2"/><circle class="w" cx="1000" cy="661" r="2"/><circle class="w" cx="1062" cy="660" r="5"/>
</g>

<g id="labels">
<text class="lbl" x="870" y="108">Red  de Servicios de Salud</text>
<text class="lbl" text-anchor="middle" x="137" y="249">Red contra</text>
<text class="lbl" text-anchor="middle" x="137" y="270">la V.I.F.</text>
<text class="lbl" text-anchor="middle" x="235" y="243">Red de</text>
<text class="lbl" text-anchor="middle" x="235" y="263">Vigilancia</text>
<text class="lbl" text-anchor="middle" x="235" y="282">de la Salud</text>
<text class="lbl" x="177" y="352">Red de</text>
<text class="lbl" x="177" y="372">Organizaciones</text>
<text class="lbl" x="177" y="391">Comunitarias</text>
<text class="lbl" text-anchor="middle" x="481" y="386">Red de Protección</text>
<text class="lbl" text-anchor="middle" x="482" y="405">Ambiental-(CNA)</text>
<text class="lbl" x="959" y="297">Redes de</text>
<text class="lbl" x="959" y="316">Organizaciones</text>
<text class="lbl" x="959" y="335">Comunitarias</text>
<circle cx="941" cy="684" r="3.5" fill="#FFFFB8"/>
<text x="952" y="691" font-family="Liberation Sans,Arial,sans-serif" font-weight="bold" font-size="23" fill="#fff">Actores sociales</text>
</g>
</svg>
